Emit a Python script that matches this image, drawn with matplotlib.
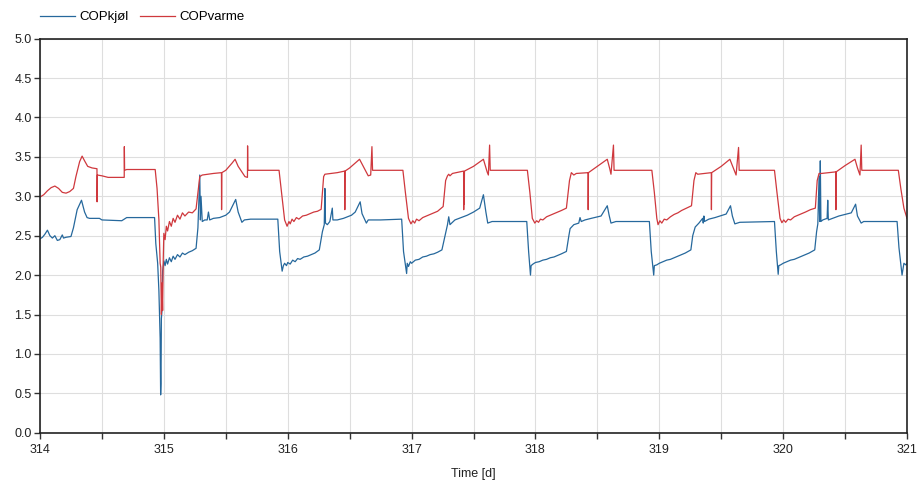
import matplotlib
matplotlib.use("Agg")
import matplotlib.pyplot as plt
from matplotlib.ticker import MultipleLocator, FormatStrFormatter

plt.rcParams['font.family'] = ['Liberation Sans', 'DejaVu Sans']

# Coefficient of performance, cooling (COPkjøl)
t_kjol = [
    314.000, 314.02, 314.04, 314.06, 314.08, 314.10, 314.12, 314.14, 314.16, 314.18,
    314.19, 314.21, 314.25, 314.27, 314.30, 314.335, 314.36, 314.38, 314.40, 314.48,
    314.50, 314.66, 314.68, 314.70, 314.925, 314.935, 314.95, 314.96, 314.97, 314.974,
    314.977, 314.98, 314.985, 314.99, 315.00, 315.01, 315.02, 315.03, 315.045, 315.06,
    315.075, 315.09, 315.11, 315.13, 315.15, 315.17, 315.20, 315.23, 315.26, 315.275,
    315.29, 315.295, 315.30, 315.31, 315.33, 315.35, 315.36, 315.37, 315.40, 315.45,
    315.50, 315.53, 315.58, 315.60, 315.63, 315.65, 315.70, 315.92, 315.935, 315.955,
    315.965, 315.975, 315.99, 316.00, 316.02, 316.04, 316.06, 316.08, 316.10, 316.13,
    316.16, 316.19, 316.22, 316.255, 316.28, 316.295, 316.30, 316.305, 316.32, 316.34,
    316.36, 316.365, 316.40, 316.45, 316.515, 316.545, 316.585, 316.60, 316.635, 316.65,
    316.75, 316.92, 316.935, 316.96, 316.965, 316.975, 316.99, 317.00, 317.03, 317.06,
    317.09, 317.12, 317.15, 317.18, 317.21, 317.245, 317.27, 317.29, 317.30, 317.31,
    317.35, 317.40, 317.45, 317.50, 317.55, 317.58, 317.60, 317.615, 317.65, 317.93,
    317.945, 317.96, 317.965, 317.98, 318.00, 318.03, 318.06, 318.09, 318.12, 318.15,
    318.18, 318.21, 318.25, 318.27, 318.28, 318.31, 318.35, 318.36, 318.37, 318.40,
    318.45, 318.53, 318.58, 318.595, 318.61, 318.65, 318.92, 318.935, 318.955, 318.96,
    318.98, 319.00, 319.03, 319.06, 319.09, 319.12, 319.15, 319.18, 319.21, 319.255,
    319.27, 319.29, 319.32, 319.35, 319.355, 319.36, 319.365, 319.40, 319.45, 319.54,
    319.575, 319.59, 319.61, 319.65, 319.93, 319.945, 319.96, 319.965, 319.98, 320.00,
    320.03, 320.06, 320.09, 320.12, 320.15, 320.18, 320.21, 320.255, 320.27, 320.28,
    320.29, 320.295, 320.30, 320.305, 320.32, 320.355, 320.36, 320.365, 320.40, 320.45,
    320.55, 320.585, 320.60, 320.63, 320.65, 320.92, 320.935, 320.96, 320.975, 320.99,
    321.00,
]
cop_kjol = [
    2.46, 2.48, 2.52, 2.57, 2.50, 2.47, 2.50, 2.44, 2.45, 2.51,
    2.47, 2.48, 2.49, 2.60, 2.83, 2.95, 2.80, 2.73, 2.72, 2.72,
    2.70, 2.69, 2.71, 2.73, 2.73, 2.40, 2.15, 1.80, 1.20, 0.48,
    0.62, 1.45, 1.55, 2.05, 2.18, 2.12, 2.20, 2.14, 2.22, 2.17,
    2.24, 2.20, 2.26, 2.23, 2.28, 2.26, 2.29, 2.31, 2.34, 2.60,
    3.27, 2.70, 3.00, 2.68, 2.70, 2.70, 2.80, 2.70, 2.72, 2.73,
    2.76, 2.80, 2.96, 2.80, 2.67, 2.70, 2.71, 2.71, 2.30, 2.05,
    2.12, 2.15, 2.12, 2.16, 2.14, 2.19, 2.17, 2.21, 2.20, 2.23,
    2.24, 2.26, 2.28, 2.32, 2.55, 2.64, 3.10, 2.66, 2.64, 2.68,
    2.85, 2.70, 2.70, 2.72, 2.76, 2.80, 2.93, 2.78, 2.66, 2.70,
    2.70, 2.71, 2.30, 2.02, 2.15, 2.11, 2.17, 2.15, 2.19, 2.20,
    2.23, 2.24, 2.26, 2.27, 2.29, 2.32, 2.50, 2.64, 2.74, 2.64,
    2.70, 2.73, 2.76, 2.80, 2.85, 3.02, 2.80, 2.66, 2.68, 2.68,
    2.30, 2.00, 2.12, 2.14, 2.16, 2.17, 2.19, 2.20, 2.22, 2.23,
    2.25, 2.27, 2.30, 2.50, 2.59, 2.64, 2.66, 2.73, 2.68, 2.70,
    2.72, 2.75, 2.88, 2.76, 2.66, 2.68, 2.68, 2.30, 2.00, 2.12,
    2.13, 2.15, 2.17, 2.19, 2.20, 2.22, 2.24, 2.26, 2.28, 2.32,
    2.50, 2.61, 2.66, 2.72, 2.66, 2.75, 2.68, 2.71, 2.73, 2.775,
    2.88, 2.75, 2.65, 2.67, 2.68, 2.30, 2.01, 2.12, 2.13, 2.15,
    2.17, 2.19, 2.20, 2.22, 2.24, 2.26, 2.28, 2.32, 2.55, 2.65,
    3.25, 2.68, 3.45, 2.68, 2.70, 2.72, 2.95, 2.70, 2.72, 2.75,
    2.79, 2.90, 2.75, 2.66, 2.68, 2.68, 2.35, 2.00, 2.15, 2.13,
    2.15,
]

# Coefficient of performance, heating (COPvarme)
t_varme = [
    314.00, 314.03, 314.06, 314.09, 314.12, 314.15, 314.18, 314.21, 314.24, 314.27,
    314.29, 314.32, 314.34, 314.36, 314.385, 314.42, 314.46, 314.461, 314.463, 314.50,
    314.55, 314.68, 314.681, 314.683, 314.70, 314.93, 314.945, 314.96, 314.97, 314.975,
    314.98, 314.985, 314.99, 314.995, 315.00, 315.01, 315.02, 315.03, 315.045, 315.06,
    315.075, 315.09, 315.11, 315.13, 315.15, 315.17, 315.20, 315.23, 315.26, 315.29,
    315.31, 315.40, 315.465, 315.466, 315.468, 315.50, 315.55, 315.575, 315.60, 315.655,
    315.675, 315.676, 315.678, 315.70, 315.93, 315.95, 315.975, 315.995, 316.01, 316.02,
    316.035, 316.05, 316.07, 316.09, 316.12, 316.15, 316.18, 316.21, 316.24, 316.27,
    316.29, 316.30, 316.35, 316.40, 316.46, 316.461, 316.463, 316.50, 316.58, 316.62,
    316.65, 316.67, 316.68, 316.685, 316.93, 316.95, 316.975, 316.995, 317.01, 317.025,
    317.04, 317.06, 317.09, 317.12, 317.15, 317.18, 317.21, 317.255, 317.275, 317.29,
    317.30, 317.31, 317.33, 317.42, 317.421, 317.423, 317.425, 317.427, 317.50, 317.58,
    317.60, 317.61, 317.62, 317.63, 317.635, 317.935, 317.955, 317.975, 317.995, 318.01,
    318.025, 318.04, 318.06, 318.09, 318.12, 318.15, 318.18, 318.21, 318.25, 318.275,
    318.29, 318.31, 318.33, 318.425, 318.426, 318.428, 318.50, 318.58, 318.60, 318.61,
    318.63, 318.635, 318.94, 318.96, 318.98, 318.99, 319.005, 319.02, 319.04, 319.06,
    319.09, 319.12, 319.15, 319.18, 319.22, 319.26, 319.28, 319.295, 319.31, 319.42,
    319.421, 319.423, 319.50, 319.57, 319.60, 319.62, 319.64, 319.645, 319.93, 319.95,
    319.975, 319.99, 320.005, 320.02, 320.04, 320.06, 320.09, 320.12, 320.15, 320.18,
    320.22, 320.26, 320.275, 320.29, 320.31, 320.425, 320.426, 320.428, 320.50, 320.58,
    320.60, 320.62, 320.63, 320.635, 320.93, 320.95, 320.975, 321.00,
]
cop_varme = [
    2.99, 3.02, 3.07, 3.11, 3.13, 3.10, 3.05, 3.04, 3.06, 3.10,
    3.25, 3.44, 3.51, 3.45, 3.38, 3.36, 3.35, 2.93, 3.27, 3.26,
    3.24, 3.24, 3.63, 3.33, 3.34, 3.34, 3.10, 2.70, 2.15, 2.10,
    1.50, 1.90, 1.55, 2.20, 2.53, 2.45, 2.62, 2.56, 2.68, 2.62,
    2.72, 2.67, 2.76, 2.71, 2.79, 2.75, 2.80, 2.79, 2.84, 3.25,
    3.27, 3.29, 3.30, 2.83, 3.30, 3.33, 3.42, 3.47, 3.38, 3.25,
    3.24, 3.64, 3.33, 3.33, 3.33, 3.05, 2.70, 2.62, 2.68, 2.65,
    2.71, 2.68, 2.73, 2.71, 2.75, 2.76, 2.78, 2.80, 2.81, 2.835,
    3.25, 3.28, 3.29, 3.30, 3.32, 2.83, 3.32, 3.36, 3.47, 3.35,
    3.26, 3.27, 3.63, 3.33, 3.33, 3.05, 2.72, 2.65, 2.69, 2.66,
    2.71, 2.69, 2.73, 2.75, 2.77, 2.79, 2.81, 2.87, 3.20, 3.26,
    3.28, 3.26, 3.29, 3.32, 2.83, 3.15, 2.90, 3.32, 3.38, 3.47,
    3.36, 3.31, 3.27, 3.65, 3.33, 3.33, 3.05, 2.72, 2.66, 2.69,
    2.67, 2.71, 2.70, 2.74, 2.76, 2.78, 2.80, 2.82, 2.85, 3.20,
    3.30, 3.27, 3.29, 3.30, 2.83, 3.30, 3.38, 3.47, 3.35, 3.28,
    3.65, 3.33, 3.33, 3.05, 2.72, 2.64, 2.69, 2.66, 2.71, 2.70,
    2.74, 2.77, 2.79, 2.82, 2.85, 2.88, 3.20, 3.30, 3.28, 3.30,
    2.83, 3.30, 3.38, 3.47, 3.35, 3.27, 3.62, 3.33, 3.33, 3.05,
    2.72, 2.665, 2.70, 2.67, 2.71, 2.70, 2.74, 2.76, 2.78, 2.80,
    2.83, 2.85, 3.20, 3.29, 3.29, 3.31, 2.83, 3.31, 3.39, 3.47,
    3.36, 3.27, 3.65, 3.33, 3.33, 3.10, 2.85, 2.72,
]

BLUE = '#26689c'
RED = '#cf383d'

fig = plt.figure(figsize=(9.19, 4.84), dpi=100)
ax = fig.add_axes([40 / 919, 51.3 / 484, 867 / 919, 394 / 484])

line_k, = ax.plot(t_kjol, cop_kjol, color=BLUE, lw=0.9, label='COPkjøl')
line_v, = ax.plot(t_varme, cop_varme, color=RED, lw=0.9, label='COPvarme')

ax.set_xlim(314, 321)
ax.set_ylim(0, 5)
ax.xaxis.set_major_locator(MultipleLocator(1))
ax.xaxis.set_minor_locator(MultipleLocator(0.5))
ax.yaxis.set_major_locator(MultipleLocator(0.5))
ax.yaxis.set_major_formatter(FormatStrFormatter('%.1f'))

ax.grid(True, which='both', color='#dedede', lw=0.8)
ax.set_axisbelow(True)
ax.tick_params(axis='both', which='both', direction='out', length=4,
               width=1, color='#333333', labelsize=9, labelcolor='#222222')
ax.tick_params(axis='x', pad=4)
ax.tick_params(axis='y', pad=2)
for s in ax.spines.values():
    s.set_color('#222222')
    s.set_linewidth(1.2)

ax.set_xlabel('Time [d]', fontsize=9, color='#222222', labelpad=9)

fig.legend(handles=[line_k, line_v], loc='upper left',
           bbox_to_anchor=(40 / 919, 1 - 11 / 484), ncol=2, frameon=False,
           fontsize=9.5, handlelength=2.65, handletextpad=0.3, columnspacing=0.9,
           borderaxespad=0, borderpad=0)

fig.savefig('out.png', dpi=100)
